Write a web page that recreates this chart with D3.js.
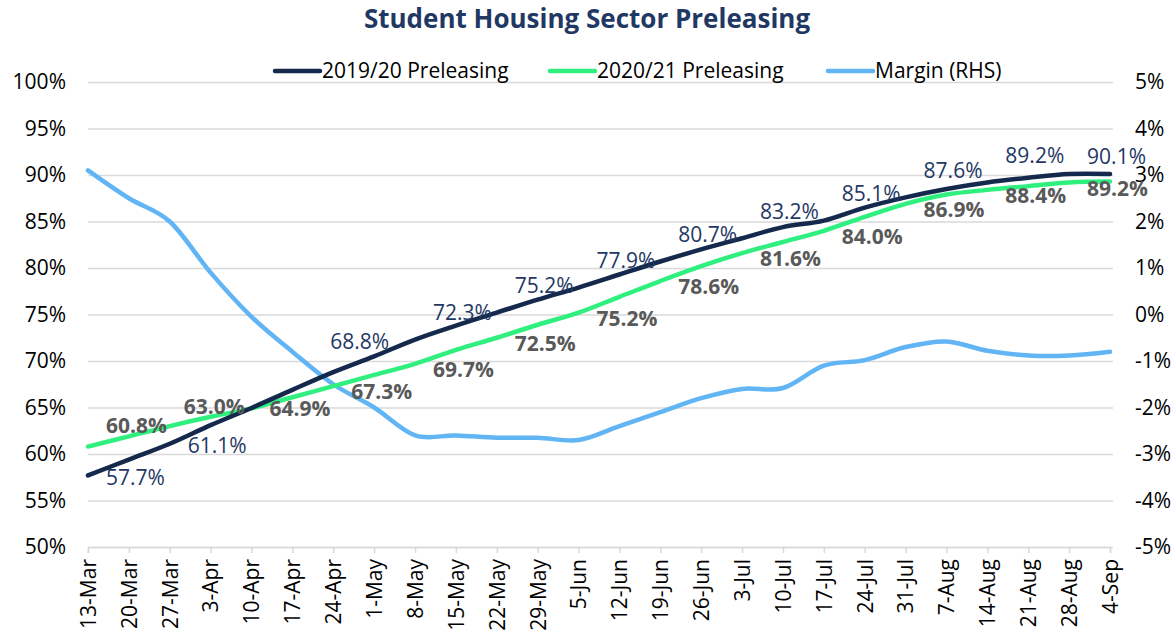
<!DOCTYPE html>
<html>
<head>
    <meta charset="utf-8">
    <title>Student Housing Sector Preleasing</title>
    <script src="https://d3js.org/d3.v7.min.js"></script>
    <style>
        html, body {
            margin: 0;
            background: #fff;
            overflow: hidden;
        }
        svg text {
            font-family: "Open Sans", Calibri, sans-serif;
        }
    </style>
</head>
<body>
    <svg id="svg"></svg>
    <script>
        // weekly dates on the category axis
        const dates = ["13-Mar", "20-Mar", "27-Mar", "3-Apr", "10-Apr", "17-Apr", "24-Apr", "1-May", "8-May",
            "15-May", "22-May", "29-May", "5-Jun", "12-Jun", "19-Jun", "26-Jun", "3-Jul", "10-Jul", "17-Jul",
            "24-Jul", "31-Jul", "7-Aug", "14-Aug", "21-Aug", "28-Aug", "4-Sep"];

        // preleasing, % of beds
        const prelease1920 = [57.7, 59.4, 61.1, 63.1, 64.95, 66.9, 68.8, 70.5, 72.3, 73.8, 75.2, 76.6, 77.9,
            79.3, 80.7, 82.0, 83.2, 84.4, 85.1, 86.5, 87.6, 88.5, 89.2, 89.7, 90.1, 90.1];
        const prelease2021 = [60.8, 61.9, 63.0, 64.0, 64.9, 66.1, 67.3, 68.5, 69.7, 71.2, 72.5, 73.9, 75.2,
            76.9, 78.6, 80.2, 81.6, 82.8, 84.0, 85.5, 86.9, 87.9, 88.4, 88.8, 89.2, 89.3];
        // margin 2020/21 vs 2019/20, percentage points (right axis)
        const margin = [3.1, 2.5, 2.0, 0.9, -0.05, -0.8, -1.5, -2.0, -2.6, -2.6, -2.65, -2.65, -2.7,
            -2.4, -2.1, -1.8, -1.6, -1.58, -1.1, -0.98, -0.7, -0.58, -0.78, -0.88, -0.88, -0.8];

        // labelled points (every second week)
        const labels1920 = ["13-Mar", "27-Mar", "24-Apr", "8-May", "22-May", "5-Jun", "19-Jun", "3-Jul",
            "17-Jul", "31-Jul", "14-Aug", "28-Aug"];
        const labels2021 = ["13-Mar", "27-Mar", "10-Apr", "24-Apr", "8-May", "22-May", "5-Jun", "19-Jun",
            "3-Jul", "17-Jul", "31-Jul", "14-Aug", "28-Aug"];

        const leftTicks = d3.range(50, 101, 5);
        const rightTicks = d3.range(-5, 6, 1);

        const width = 1174, height = 637;
        const plot = { left: 88, right: 1110, top: 82, bottom: 547 };

        const navy = "#14294b", green = "#2ff07f", blue = "#62b5f5";
        const grid = "#d9d9d9";
        const fs = 21;

        const svg = d3.select("#svg")
            .attr("width", width)
            .attr("height", height);

        const x = d3.scalePoint().domain(dates).range([plot.left, plot.right]);
        const yL = d3.scaleLinear().domain([50, 100]).range([plot.bottom, plot.top]);
        const yR = d3.scaleLinear().domain([-5, 5]).range([plot.bottom, plot.top]);

        // title
        svg.append("text")
            .attr("x", width / 2)
            .attr("y", 28)
            .attr("text-anchor", "middle")
            .attr("font-size", 26)
            .attr("font-weight", "bold")
            .attr("fill", "#1f3864")
            .text("Student Housing Sector Preleasing");

        // left axis + gridlines
        const left = svg.append("g")
            .attr("transform", `translate(${plot.left},0)`)
            .call(d3.axisLeft(yL).tickValues(leftTicks).tickSize(-(plot.right - plot.left + 3)).tickPadding(22).tickFormat(d => d + "%"));
        left.select(".domain").remove();
        left.selectAll("line").attr("stroke", grid).attr("stroke-width", 1.5);
        left.selectAll("text").attr("font-size", fs).attr("fill", "#000");

        // right axis
        const right = svg.append("g")
            .attr("transform", `translate(${plot.right},0)`)
            .call(d3.axisRight(yR).tickValues(rightTicks).tickSize(0).tickPadding(25).tickFormat(d => d + "%"));
        right.select(".domain").remove();
        right.selectAll("text").attr("font-size", fs).attr("fill", "#000");

        // x axis
        const bottom = svg.append("g")
            .attr("transform", `translate(0,${plot.bottom})`)
            .call(d3.axisBottom(x).tickSize(6));
        bottom.select(".domain").attr("stroke", grid).attr("stroke-width", 1.5);
        bottom.selectAll("line").attr("stroke", grid).attr("stroke-width", 1.5);
        bottom.selectAll("text")
            .attr("font-size", fs)
            .attr("fill", "#000")
            .attr("transform", "rotate(-90)")
            .attr("x", -12)
            .attr("y", 0)
            .attr("dy", "0.35em")
            .attr("text-anchor", "end");

        const curve = d3.curveCatmullRom.alpha(0);

        const lineL = d3.line().x((d, i) => x(dates[i])).y(d => yL(d)).curve(curve);
        const lineR = d3.line().x((d, i) => x(dates[i])).y(d => yR(d)).curve(curve);

        svg.append("path").datum(margin).attr("d", lineR)
            .attr("fill", "none").attr("stroke", blue).attr("stroke-width", 4.5).attr("stroke-linecap", "round");
        svg.append("path").datum(prelease2021).attr("d", lineL)
            .attr("fill", "none").attr("stroke", green).attr("stroke-width", 4.5).attr("stroke-linecap", "round");
        svg.append("path").datum(prelease1920).attr("d", lineL)
            .attr("fill", "none").attr("stroke", navy).attr("stroke-width", 4.5).attr("stroke-linecap", "round");

        // data labels, placed right of the point
        const nudge1920 = { "13-Mar": [0, 2], "27-Mar": [0, 2], "24-Apr": [-21, -31], "28-Aug": [0, -17] };
        const nudge2021 = { "13-Mar": [0, -21], "27-Mar": [-4, -19], "10-Apr": [0, 0] };

        svg.append("g").selectAll("text")
            .data(labels1920)
            .join("text")
            .attr("x", d => x(d) + 18 + (nudge1920[d] ? nudge1920[d][0] : 0))
            .attr("y", d => yL(prelease1920[dates.indexOf(d)]) + (nudge1920[d] ? nudge1920[d][1] : -27))
            .attr("dy", "0.35em")
            .attr("font-size", fs)
            .attr("fill", "#1f3864")
            .text(d => prelease1920[dates.indexOf(d)].toFixed(1) + "%");

        svg.append("g").selectAll("text")
            .data(labels2021)
            .join("text")
            .attr("x", d => x(d) + 18 + (nudge2021[d] ? nudge2021[d][0] : 0))
            .attr("y", d => yL(prelease2021[dates.indexOf(d)]) + (nudge2021[d] ? nudge2021[d][1] : 6))
            .attr("dy", "0.35em")
            .attr("font-size", fs)
            .attr("font-weight", "bold")
            .attr("fill", "#595959")
            .text(d => prelease2021[dates.indexOf(d)].toFixed(1) + "%");

        // legend
        const legendItems = [
            { name: "2019/20 Preleasing", color: navy, x: 275 },
            { name: "2020/21 Preleasing", color: green, x: 550 },
            { name: "Margin (RHS)", color: blue, x: 828 }
        ];
        const legend = svg.append("g").selectAll("g")
            .data(legendItems)
            .join("g")
            .attr("transform", d => `translate(${d.x},71)`);
        legend.append("line")
            .attr("x1", 0).attr("x2", 45)
            .attr("stroke", d => d.color).attr("stroke-width", 4.5).attr("stroke-linecap", "round");
        legend.append("text")
            .attr("x", 47)
            .attr("dy", "0.35em")
            .attr("font-size", fs)
            .attr("fill", "#000")
            .text(d => d.name);
    </script>
</body>
</html>
